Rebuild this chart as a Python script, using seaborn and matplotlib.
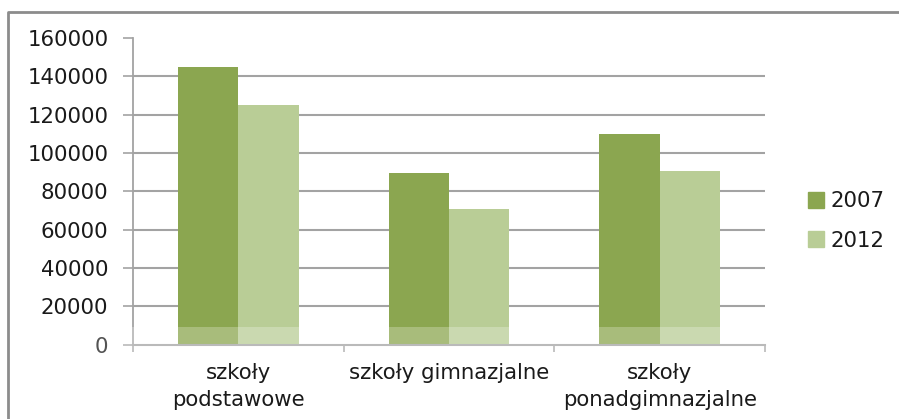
import matplotlib
matplotlib.use("Agg")
import matplotlib.pyplot as plt
from matplotlib.lines import Line2D
from matplotlib.patches import Rectangle
import seaborn as sns
import pandas as pd

# Number of students by school type
categories = ["szkoły\npodstawowe", "szkoły gimnazjalne", "szkoły\nponadgimnazjalne"]
years = ["2007", "2012"]
values_2007 = [145000, 89700, 110000]
values_2012 = [125000, 70600, 90500]
yticks = [0, 20000, 40000, 60000, 80000, 100000, 120000, 140000, 160000]
colors = ["#8BA650", "#B9CD96"]

df = pd.DataFrame({
    "typ": categories * 2,
    "rok": [years[0]] * 3 + [years[1]] * 3,
    "liczba": values_2007 + values_2012,
})

sns.set_theme(style="white")
plt.rcParams["font.family"] = ["DejaVu Sans"]
text_color = "#1a1a1a"
grid_color = "#a3a3a3"
fs = 15.3

fig = plt.figure(figsize=(8.99, 4.19), dpi=100)
W, H = 899, 419
ax = fig.add_axes([133 / W, 1 - 344.5 / H, (765 - 133) / W, (344.5 - 38) / H])

sns.barplot(data=df, x="typ", y="liczba", hue="rok", palette=colors,
            order=categories, hue_order=years, width=0.574, gap=0,
            saturation=1, edgecolor="none", linewidth=0, ax=ax, legend=False)

ax.set_ylim(0, 160000)
ax.set_xlim(-0.5, 2.5)
ax.set_yticks(yticks)
ax.set_yticklabels([str(v) for v in yticks])
ax.set_xlabel("")
ax.set_ylabel("")

# horizontal gridlines (none at the top value)
for v in yticks[1:-1]:
    ax.axhline(v, color=grid_color, lw=1.5, zorder=0)
ax.set_axisbelow(True)

for side in ["top", "right"]:
    ax.spines[side].set_visible(False)
ax.spines["left"].set_color(grid_color)
ax.spines["left"].set_linewidth(1.3)
ax.spines["bottom"].set_color(grid_color)
ax.spines["bottom"].set_linewidth(1.5)

ax.tick_params(axis="y", length=7.2, width=1.2, color=grid_color, pad=10.5,
               labelsize=fs, labelcolor=text_color, left=True, direction="out")
ax.tick_params(axis="x", which="major", length=0, pad=13,
               labelsize=fs, labelcolor=text_color)
ax.set_xticks([-0.5, 0.5, 1.5, 2.5], minor=True)
ax.tick_params(axis="x", which="minor", length=5, width=1.2, color=grid_color,
               direction="out", bottom=True)
for lbl in ax.get_xticklabels():
    lbl.set_linespacing(1.45)

# legend on the right
handles = [Line2D([], [], marker="s", linestyle="none", markersize=11,
                  markerfacecolor=c, markeredgecolor=c) for c in colors]
fig.legend(handles, years, loc="center left", bbox_to_anchor=(808 / W, 1 - 221 / H),
           frameon=False, fontsize=fs, labelcolor=text_color, handlelength=0.75,
           handletextpad=0.3, labelspacing=0.93, borderpad=0, borderaxespad=0)

# outer chart frame
frame_color = "#8c8c8c"
fig.add_artist(Line2D([8 / W, 8 / W, 1.0], [0.0, 1 - 12 / H, 1 - 12 / H],
                      transform=fig.transFigure, color=frame_color, lw=2.0))

# light haze band along the base of the bars
fig.add_artist(Rectangle((10 / W, 1 - 360 / H), 1 - 10 / W, 33 / H,
                         transform=fig.transFigure, facecolor="white",
                         alpha=0.25, edgecolor="none", zorder=5))

fig.savefig("out.png", dpi=100)
